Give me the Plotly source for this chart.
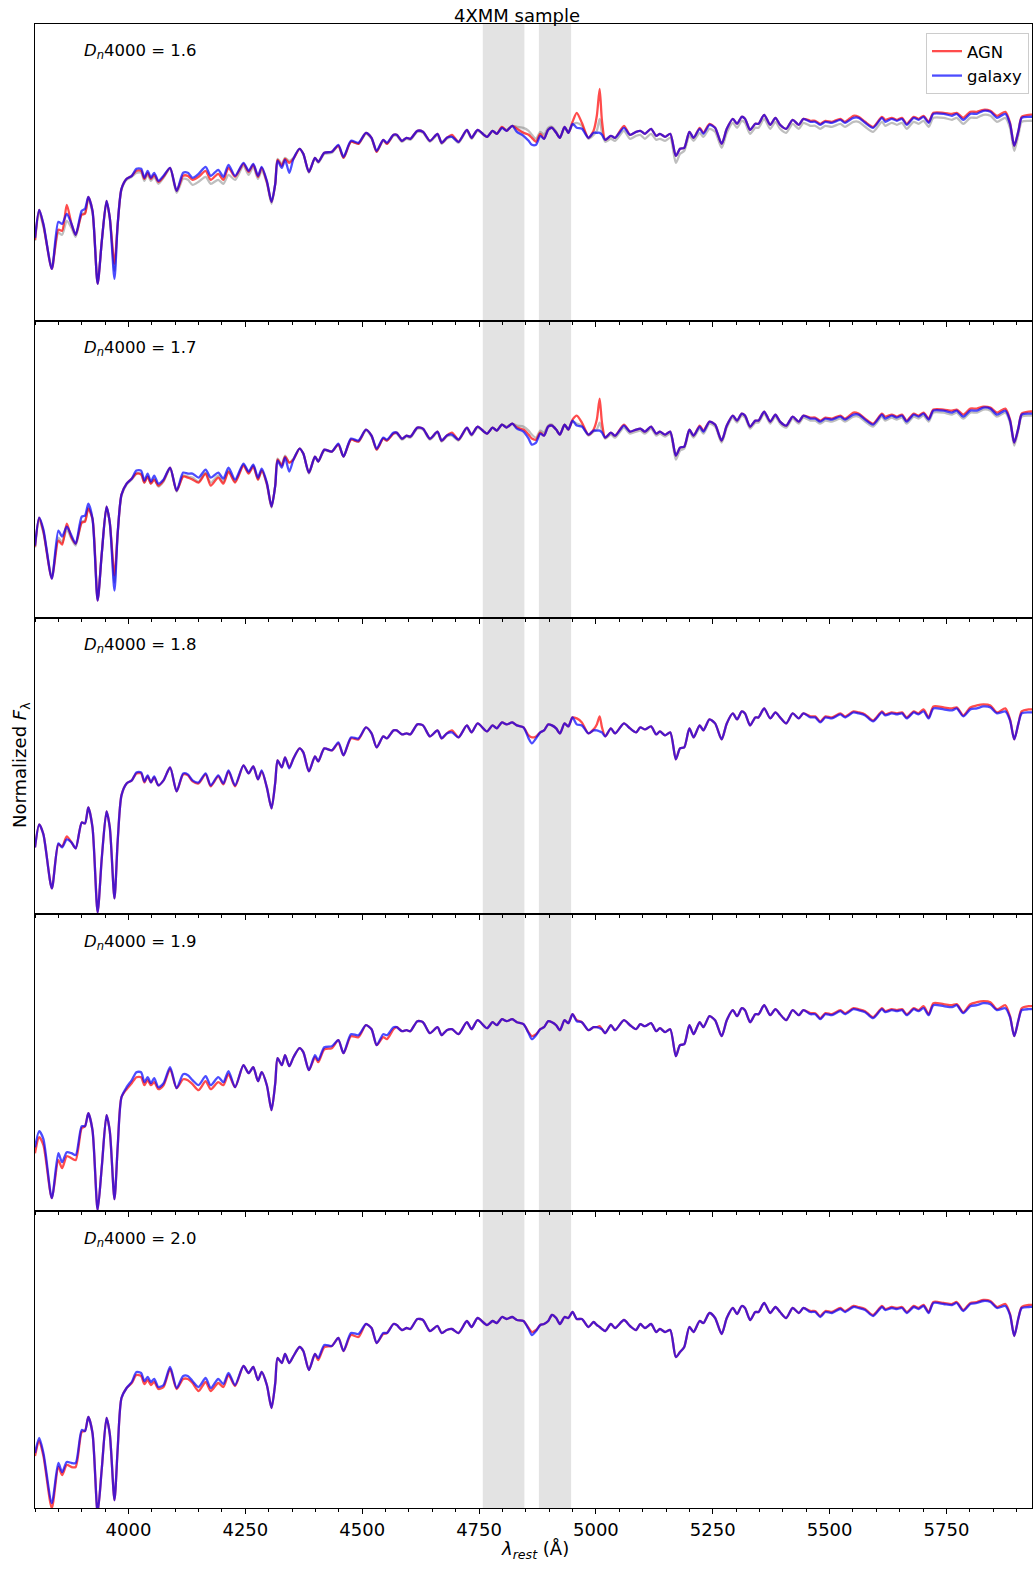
import plotly.graph_objects as go
from plotly.subplots import make_subplots

# Rest-frame wavelength grid (Angstrom), split into blue / middle / red stretches
WAVE_A = [3800, 3809, 3818, 3836, 3850, 3858, 3868, 3878, 3887, 3900, 3907, 3914, 3923, 3934, 3943, 3953, 3960, 3970, 3977, 3985,
          3996, 4007, 4017, 4027, 4034, 4041, 4048, 4055, 4064, 4075, 4089, 4103, 4117, 4127, 4137, 4150, 4165, 4176, 4192, 4203,
          4214, 4228, 4246, 4257, 4267, 4277, 4285, 4296, 4306, 4314, 4319, 4328, 4335, 4344, 4353, 4366, 4374, 4386, 4399, 4406,
          4419, 4435, 4449, 4460, 4476, 4492, 4508, 4520, 4531, 4545, 4553, 4567]
WAVE_B = [4574, 4585, 4595, 4603, 4618, 4630, 4645, 4661, 4670, 4681, 4692, 4706, 4724, 4734, 4747, 4767, 4779, 4788, 4799, 4809,
          4821, 4831, 4845, 4856, 4863, 4872, 4881, 4889, 4898, 4906, 4915, 4923, 4933, 4941, 4950, 4959, 4970, 4984, 4995, 5002,
          5008, 5013, 5020, 5032, 5041, 5060, 5073, 5086, 5095, 5105, 5118, 5129, 5137, 5148, 5159, 5171, 5180, 5189, 5200, 5209,
          5222, 5230, 5243]
WAVE_C = [5255, 5269, 5280, 5293, 5302, 5312, 5319, 5330, 5341, 5348, 5360, 5373, 5384, 5394, 5407, 5421, 5434, 5444, 5459, 5469,
          5480, 5491, 5505, 5523, 5533, 5551, 5562, 5576, 5593, 5612, 5619, 5633, 5644, 5655, 5665, 5680, 5690, 5701, 5712, 5722,
          5744, 5762, 5772, 5786, 5801, 5815, 5829, 5844, 5858, 5876, 5886, 5895, 5904, 5911, 5926, 5938]
WAVE = WAVE_A + WAVE_B + WAVE_C

DN4000_BINS = ["1.6", "1.7", "1.8", "1.9", "2.0"]

# Excluded windows (Angstrom)
MASKS = [(4758, 4847), (4878, 4947)]

X_TICKS = [4000, 4250, 4500, 4750, 5000, 5250, 5500, 5750]

# ---- Dn4000 = 1.6 ----
GAL_16 = [0.83, 1.11, 0.97, 0.52, 0.99, 0.97, 1.07, 0.97, 0.86, 1.10, 1.12, 1.24, 1.10, 0.37, 0.80, 1.20, 1.03, 0.42, 0.97, 1.32,
          1.42, 1.45, 1.52, 1.52, 1.43, 1.50, 1.43, 1.48, 1.40, 1.45, 1.53, 1.30, 1.48, 1.48, 1.43, 1.47, 1.54, 1.45, 1.51, 1.44,
          1.56, 1.45, 1.58, 1.50, 1.57, 1.45, 1.54, 1.40, 1.19, 1.37, 1.60, 1.53, 1.61, 1.48, 1.62, 1.72, 1.67, 1.49, 1.63, 1.59,
          1.68, 1.69, 1.76, 1.64, 1.80, 1.78, 1.88, 1.83, 1.70, 1.81, 1.78, 1.86,
          1.86, 1.80, 1.83, 1.82, 1.90, 1.89, 1.80, 1.87, 1.78, 1.83, 1.84, 1.79, 1.91, 1.83, 1.91, 1.84, 1.90, 1.87, 1.93, 1.90,
          1.95, 1.89, 1.85, 1.80, 1.76, 1.76, 1.85, 1.82, 1.91, 1.93, 1.88, 1.83, 1.94, 1.88, 1.97, 1.93, 1.92, 1.83, 1.88, 1.88,
          1.88, 1.86, 1.81, 1.85, 1.83, 1.93, 1.86, 1.89, 1.90, 1.87, 1.92, 1.85, 1.87, 1.84, 1.87, 1.65, 1.72, 1.73, 1.89, 1.83,
          1.92, 1.87, 1.96,
          1.93, 1.77, 1.92, 2.02, 1.97, 2.04, 2.02, 1.91, 1.97, 1.97, 2.06, 1.96, 2.03, 1.96, 1.92, 2.01, 1.96, 2.02, 1.99, 1.99,
          1.96, 1.99, 1.98, 2.01, 1.98, 2.03, 2.03, 1.98, 1.93, 2.03, 1.99, 2.02, 2.00, 2.02, 1.96, 2.03, 2.01, 2.04, 1.98, 2.07,
          2.07, 2.05, 2.07, 2.01, 2.07, 2.07, 2.10, 2.09, 2.03, 2.07, 1.97, 1.75, 1.90, 2.03, 2.04, 2.04]
AGN_16 = [0.81, 1.11, 0.96, 0.52, 0.91, 0.90, 1.16, 0.97, 0.86, 1.06, 1.07, 1.24, 1.10, 0.37, 0.80, 1.20, 1.03, 0.57, 0.97, 1.32,
          1.42, 1.45, 1.50, 1.50, 1.42, 1.48, 1.42, 1.46, 1.39, 1.44, 1.53, 1.30, 1.45, 1.45, 1.41, 1.44, 1.50, 1.41, 1.47, 1.41,
          1.53, 1.44, 1.57, 1.49, 1.56, 1.44, 1.53, 1.39, 1.19, 1.37, 1.61, 1.55, 1.62, 1.58, 1.62, 1.72, 1.67, 1.49, 1.63, 1.59,
          1.68, 1.69, 1.75, 1.63, 1.79, 1.77, 1.88, 1.83, 1.69, 1.81, 1.77, 1.86,
          1.86, 1.80, 1.83, 1.82, 1.90, 1.89, 1.80, 1.87, 1.78, 1.83, 1.86, 1.79, 1.91, 1.83, 1.91, 1.84, 1.90, 1.87, 1.94, 1.90,
          1.95, 1.92, 1.88, 1.86, 1.83, 1.79, 1.87, 1.82, 1.91, 1.93, 1.88, 1.83, 1.94, 1.88, 1.99, 2.08, 1.98, 1.83, 1.90, 2.05,
          2.32, 2.00, 1.81, 1.85, 1.83, 1.95, 1.86, 1.89, 1.90, 1.87, 1.92, 1.85, 1.87, 1.84, 1.87, 1.65, 1.72, 1.73, 1.89, 1.83,
          1.93, 1.88, 1.97,
          1.93, 1.77, 1.92, 2.02, 1.97, 2.04, 2.02, 1.91, 1.97, 1.97, 2.06, 1.96, 2.03, 1.96, 1.92, 2.01, 1.96, 2.02, 2.00, 2.00,
          1.97, 2.00, 1.99, 2.02, 1.99, 2.05, 2.04, 1.99, 1.94, 2.04, 2.01, 2.03, 2.01, 2.03, 1.97, 2.04, 2.02, 2.05, 1.99, 2.08,
          2.08, 2.07, 2.08, 2.03, 2.09, 2.09, 2.11, 2.10, 2.05, 2.09, 1.98, 1.75, 1.90, 2.04, 2.06, 2.06]
ALL_16 = [0.80, 1.08, 0.94, 0.55, 0.88, 0.86, 1.00, 0.93, 0.84, 1.07, 1.08, 1.22, 1.08, 0.38, 0.80, 1.19, 1.03, 0.50, 0.97, 1.31,
          1.41, 1.44, 1.48, 1.48, 1.40, 1.46, 1.40, 1.44, 1.37, 1.43, 1.52, 1.28, 1.42, 1.41, 1.36, 1.39, 1.44, 1.37, 1.41, 1.37,
          1.46, 1.41, 1.55, 1.46, 1.54, 1.42, 1.50, 1.38, 1.17, 1.37, 1.62, 1.57, 1.63, 1.60, 1.63, 1.72, 1.67, 1.48, 1.63, 1.58,
          1.67, 1.68, 1.75, 1.63, 1.79, 1.77, 1.87, 1.82, 1.69, 1.80, 1.77, 1.85,
          1.85, 1.79, 1.82, 1.81, 1.89, 1.88, 1.79, 1.86, 1.77, 1.82, 1.84, 1.78, 1.90, 1.82, 1.90, 1.84, 1.90, 1.87, 1.93, 1.91,
          1.95, 1.94, 1.93, 1.90, 1.86, 1.82, 1.89, 1.86, 1.93, 1.94, 1.89, 1.83, 1.93, 1.88, 1.96, 1.98, 1.95, 1.82, 1.86, 1.90,
          2.02, 1.88, 1.79, 1.82, 1.80, 1.90, 1.82, 1.85, 1.86, 1.82, 1.87, 1.81, 1.82, 1.80, 1.83, 1.58, 1.67, 1.70, 1.85, 1.80,
          1.88, 1.84, 1.92,
          1.89, 1.73, 1.88, 1.98, 1.93, 2.00, 1.98, 1.87, 1.93, 1.93, 2.02, 1.92, 1.99, 1.92, 1.88, 1.97, 1.92, 1.98, 1.95, 1.95,
          1.92, 1.95, 1.94, 1.97, 1.94, 1.99, 1.99, 1.94, 1.89, 1.99, 1.95, 1.98, 1.96, 1.98, 1.92, 1.99, 1.97, 2.00, 1.94, 2.03,
          2.03, 2.01, 2.03, 1.97, 2.03, 2.03, 2.06, 2.05, 1.99, 2.03, 1.93, 1.70, 1.86, 1.99, 2.00, 2.00]

# ---- Dn4000 = 1.7 ----
GAL_17 = [0.72, 1.00, 0.88, 0.39, 0.87, 0.81, 0.91, 0.82, 0.74, 1.01, 1.02, 1.14, 0.99, 0.17, 0.65, 1.11, 0.95, 0.27, 0.85, 1.23,
          1.34, 1.39, 1.47, 1.47, 1.37, 1.44, 1.36, 1.42, 1.34, 1.38, 1.50, 1.27, 1.45, 1.44, 1.44, 1.40, 1.48, 1.40, 1.45, 1.39,
          1.50, 1.38, 1.54, 1.46, 1.53, 1.40, 1.49, 1.35, 1.11, 1.32, 1.57, 1.50, 1.60, 1.46, 1.58, 1.69, 1.64, 1.45, 1.61, 1.56,
          1.68, 1.66, 1.74, 1.61, 1.79, 1.77, 1.88, 1.82, 1.69, 1.80, 1.78, 1.85,
          1.85, 1.79, 1.82, 1.81, 1.90, 1.89, 1.79, 1.86, 1.77, 1.82, 1.83, 1.78, 1.90, 1.83, 1.91, 1.84, 1.90, 1.87, 1.93, 1.90,
          1.94, 1.89, 1.86, 1.79, 1.73, 1.75, 1.84, 1.82, 1.91, 1.92, 1.88, 1.83, 1.93, 1.88, 1.97, 1.92, 1.91, 1.83, 1.87, 1.87,
          1.87, 1.85, 1.80, 1.85, 1.82, 1.92, 1.86, 1.88, 1.89, 1.86, 1.91, 1.84, 1.86, 1.83, 1.86, 1.62, 1.70, 1.71, 1.88, 1.82,
          1.91, 1.86, 1.96,
          1.93, 1.77, 1.92, 2.02, 1.97, 2.04, 2.02, 1.91, 1.97, 1.97, 2.06, 1.96, 2.03, 1.96, 1.92, 2.01, 1.96, 2.02, 1.99, 1.99,
          1.96, 1.99, 1.98, 2.01, 1.98, 2.03, 2.03, 1.98, 1.93, 2.03, 1.99, 2.02, 2.00, 2.02, 1.96, 2.03, 2.01, 2.04, 1.98, 2.07,
          2.07, 2.05, 2.07, 2.01, 2.07, 2.07, 2.10, 2.09, 2.03, 2.07, 1.97, 1.75, 1.90, 2.03, 2.04, 2.04]
AGN_17 = [0.71, 1.00, 0.86, 0.39, 0.77, 0.73, 0.94, 0.80, 0.74, 0.95, 0.96, 1.09, 0.99, 0.17, 0.65, 1.11, 0.95, 0.42, 0.85, 1.23,
          1.34, 1.39, 1.44, 1.43, 1.35, 1.41, 1.34, 1.38, 1.32, 1.37, 1.50, 1.27, 1.41, 1.40, 1.38, 1.35, 1.44, 1.32, 1.40, 1.34,
          1.46, 1.35, 1.52, 1.44, 1.51, 1.38, 1.47, 1.34, 1.11, 1.32, 1.58, 1.52, 1.61, 1.55, 1.58, 1.69, 1.64, 1.45, 1.61, 1.56,
          1.68, 1.66, 1.73, 1.61, 1.78, 1.76, 1.88, 1.82, 1.68, 1.79, 1.77, 1.84,
          1.85, 1.79, 1.82, 1.81, 1.90, 1.89, 1.79, 1.86, 1.77, 1.82, 1.85, 1.78, 1.90, 1.83, 1.91, 1.84, 1.90, 1.87, 1.93, 1.90,
          1.94, 1.90, 1.88, 1.83, 1.79, 1.78, 1.85, 1.82, 1.91, 1.92, 1.88, 1.83, 1.93, 1.88, 1.98, 2.02, 1.95, 1.83, 1.88, 1.98,
          2.19, 1.95, 1.80, 1.85, 1.82, 1.93, 1.86, 1.88, 1.89, 1.86, 1.91, 1.84, 1.86, 1.83, 1.86, 1.62, 1.70, 1.71, 1.88, 1.82,
          1.92, 1.87, 1.96,
          1.93, 1.77, 1.92, 2.02, 1.97, 2.04, 2.02, 1.91, 1.97, 1.97, 2.06, 1.96, 2.03, 1.96, 1.92, 2.01, 1.96, 2.02, 2.00, 2.00,
          1.97, 2.00, 1.99, 2.02, 1.99, 2.05, 2.04, 1.99, 1.94, 2.04, 2.01, 2.03, 2.01, 2.03, 1.97, 2.04, 2.02, 2.05, 1.99, 2.08,
          2.08, 2.07, 2.08, 2.03, 2.09, 2.09, 2.11, 2.10, 2.05, 2.09, 1.98, 1.75, 1.90, 2.04, 2.06, 2.06]
ALL_17 = [0.70, 0.98, 0.85, 0.42, 0.80, 0.75, 0.88, 0.79, 0.72, 0.96, 0.97, 1.10, 0.98, 0.19, 0.65, 1.10, 0.95, 0.35, 0.85, 1.22,
          1.33, 1.38, 1.44, 1.44, 1.35, 1.41, 1.34, 1.39, 1.31, 1.36, 1.49, 1.26, 1.42, 1.41, 1.40, 1.36, 1.45, 1.35, 1.42, 1.36,
          1.47, 1.36, 1.53, 1.45, 1.52, 1.38, 1.47, 1.33, 1.10, 1.33, 1.59, 1.53, 1.62, 1.55, 1.59, 1.69, 1.64, 1.44, 1.61, 1.56,
          1.67, 1.66, 1.73, 1.61, 1.78, 1.76, 1.87, 1.81, 1.68, 1.79, 1.77, 1.84,
          1.84, 1.78, 1.81, 1.80, 1.89, 1.88, 1.78, 1.85, 1.76, 1.81, 1.82, 1.77, 1.89, 1.82, 1.90, 1.84, 1.90, 1.87, 1.93, 1.91,
          1.94, 1.92, 1.91, 1.87, 1.83, 1.80, 1.87, 1.85, 1.92, 1.93, 1.88, 1.83, 1.93, 1.88, 1.96, 1.94, 1.92, 1.82, 1.86, 1.88,
          1.95, 1.87, 1.79, 1.83, 1.80, 1.90, 1.84, 1.86, 1.87, 1.84, 1.89, 1.82, 1.84, 1.81, 1.84, 1.58, 1.67, 1.69, 1.86, 1.80,
          1.89, 1.84, 1.94,
          1.91, 1.75, 1.90, 2.00, 1.95, 2.02, 2.00, 1.89, 1.95, 1.95, 2.04, 1.94, 2.01, 1.94, 1.90, 1.99, 1.94, 2.00, 1.97, 1.97,
          1.94, 1.97, 1.96, 1.99, 1.96, 2.01, 2.01, 1.96, 1.91, 2.01, 1.97, 2.00, 1.98, 2.00, 1.94, 2.01, 1.99, 2.02, 1.96, 2.05,
          2.05, 2.03, 2.05, 1.99, 2.05, 2.05, 2.08, 2.07, 2.01, 2.05, 1.95, 1.72, 1.88, 2.01, 2.02, 2.02]

# ---- Dn4000 = 1.8 ----
GAL_18 = [0.67, 0.90, 0.80, 0.26, 0.71, 0.67, 0.75, 0.72, 0.66, 0.92, 0.91, 1.07, 0.87, 0.02, 0.57, 1.03, 0.87, 0.16, 0.74, 1.19,
          1.31, 1.34, 1.42, 1.42, 1.33, 1.39, 1.32, 1.38, 1.29, 1.34, 1.47, 1.23, 1.41, 1.40, 1.34, 1.32, 1.41, 1.29, 1.39, 1.31,
          1.44, 1.29, 1.49, 1.41, 1.48, 1.35, 1.44, 1.27, 1.06, 1.32, 1.54, 1.47, 1.57, 1.46, 1.56, 1.66, 1.62, 1.43, 1.58, 1.53,
          1.66, 1.64, 1.72, 1.59, 1.77, 1.76, 1.87, 1.81, 1.67, 1.78, 1.76, 1.84,
          1.84, 1.80, 1.81, 1.80, 1.90, 1.89, 1.78, 1.84, 1.76, 1.81, 1.82, 1.77, 1.89, 1.82, 1.91, 1.83, 1.89, 1.86, 1.92, 1.90,
          1.92, 1.89, 1.87, 1.76, 1.71, 1.76, 1.82, 1.84, 1.90, 1.89, 1.86, 1.81, 1.91, 1.88, 1.97, 1.90, 1.89, 1.81, 1.84, 1.84,
          1.83, 1.82, 1.78, 1.86, 1.81, 1.91, 1.86, 1.82, 1.87, 1.85, 1.88, 1.80, 1.83, 1.79, 1.82, 1.55, 1.66, 1.67, 1.86, 1.77,
          1.89, 1.84, 1.95,
          1.91, 1.75, 1.91, 2.01, 1.95, 2.03, 2.01, 1.89, 1.97, 1.97, 2.06, 1.96, 2.02, 1.97, 1.91, 2.01, 1.96, 2.01, 1.97, 1.97,
          1.92, 1.97, 1.96, 2.00, 1.97, 2.02, 2.01, 1.99, 1.93, 2.02, 1.99, 2.01, 2.00, 2.01, 1.96, 2.02, 2.00, 2.03, 1.96, 2.06,
          2.05, 2.04, 2.06, 1.98, 2.05, 2.06, 2.08, 2.07, 2.01, 2.03, 1.94, 1.75, 1.91, 2.01, 2.02, 2.02]
AGN_18 = [0.67, 0.90, 0.80, 0.26, 0.70, 0.68, 0.78, 0.72, 0.66, 0.92, 0.91, 1.07, 0.87, 0.02, 0.57, 1.03, 0.87, 0.16, 0.74, 1.19,
          1.31, 1.34, 1.41, 1.41, 1.32, 1.38, 1.32, 1.37, 1.29, 1.34, 1.47, 1.23, 1.40, 1.39, 1.33, 1.31, 1.40, 1.28, 1.38, 1.30,
          1.43, 1.28, 1.49, 1.41, 1.48, 1.35, 1.43, 1.27, 1.06, 1.32, 1.54, 1.47, 1.57, 1.47, 1.56, 1.66, 1.62, 1.43, 1.58, 1.53,
          1.66, 1.64, 1.71, 1.59, 1.76, 1.75, 1.87, 1.81, 1.67, 1.78, 1.76, 1.84,
          1.84, 1.80, 1.81, 1.80, 1.90, 1.89, 1.78, 1.84, 1.76, 1.81, 1.84, 1.77, 1.89, 1.82, 1.91, 1.83, 1.89, 1.86, 1.92, 1.90,
          1.92, 1.89, 1.87, 1.79, 1.77, 1.78, 1.82, 1.84, 1.90, 1.89, 1.86, 1.81, 1.91, 1.88, 1.97, 1.96, 1.92, 1.81, 1.85, 1.90,
          1.98, 1.87, 1.78, 1.86, 1.81, 1.91, 1.86, 1.82, 1.87, 1.85, 1.88, 1.80, 1.83, 1.79, 1.82, 1.55, 1.66, 1.67, 1.86, 1.77,
          1.89, 1.84, 1.95,
          1.91, 1.75, 1.91, 2.01, 1.95, 2.03, 2.01, 1.89, 1.97, 1.97, 2.06, 1.96, 2.02, 1.97, 1.91, 2.01, 1.96, 2.01, 1.98, 1.98,
          1.93, 1.98, 1.97, 2.01, 1.98, 2.03, 2.02, 2.00, 1.94, 2.03, 2.00, 2.02, 2.01, 2.02, 1.97, 2.03, 2.01, 2.05, 1.97, 2.08,
          2.07, 2.06, 2.07, 1.99, 2.07, 2.09, 2.10, 2.09, 2.02, 2.06, 1.95, 1.75, 1.91, 2.03, 2.05, 2.05]

# ---- Dn4000 = 1.9 ----
GAL_19 = [0.64, 0.80, 0.72, 0.13, 0.58, 0.49, 0.59, 0.58, 0.56, 0.85, 0.85, 0.98, 0.81, 0.01, 0.45, 0.96, 0.80, 0.12, 0.65, 1.14,
          1.24, 1.31, 1.39, 1.39, 1.29, 1.34, 1.28, 1.33, 1.24, 1.28, 1.44, 1.23, 1.37, 1.36, 1.31, 1.26, 1.35, 1.26, 1.34, 1.29,
          1.40, 1.24, 1.46, 1.38, 1.44, 1.30, 1.39, 1.26, 1.01, 1.28, 1.53, 1.46, 1.56, 1.45, 1.54, 1.63, 1.59, 1.41, 1.56, 1.51,
          1.64, 1.65, 1.71, 1.58, 1.77, 1.76, 1.86, 1.82, 1.66, 1.77, 1.76, 1.84,
          1.84, 1.80, 1.81, 1.80, 1.90, 1.89, 1.78, 1.84, 1.76, 1.81, 1.82, 1.77, 1.89, 1.82, 1.91, 1.83, 1.89, 1.86, 1.92, 1.90,
          1.92, 1.89, 1.87, 1.78, 1.72, 1.76, 1.82, 1.84, 1.90, 1.89, 1.86, 1.81, 1.91, 1.88, 1.97, 1.90, 1.89, 1.81, 1.84, 1.84,
          1.83, 1.82, 1.78, 1.86, 1.81, 1.91, 1.86, 1.82, 1.87, 1.85, 1.88, 1.80, 1.83, 1.79, 1.82, 1.55, 1.66, 1.67, 1.86, 1.77,
          1.89, 1.84, 1.95,
          1.91, 1.75, 1.91, 2.01, 1.95, 2.03, 2.01, 1.89, 1.97, 1.97, 2.06, 1.96, 2.02, 1.97, 1.91, 2.01, 1.96, 2.01, 1.97, 1.97,
          1.92, 1.97, 1.96, 2.00, 1.97, 2.02, 2.01, 1.99, 1.93, 2.02, 1.99, 2.01, 2.00, 2.01, 1.96, 2.02, 2.00, 2.03, 1.96, 2.06,
          2.05, 2.04, 2.06, 1.98, 2.05, 2.06, 2.08, 2.07, 2.01, 2.03, 1.94, 1.75, 1.91, 2.01, 2.02, 2.02]
AGN_19 = [0.58, 0.74, 0.66, 0.13, 0.51, 0.43, 0.55, 0.53, 0.51, 0.83, 0.85, 0.98, 0.81, 0.01, 0.45, 0.96, 0.80, 0.12, 0.65, 1.14,
          1.22, 1.28, 1.34, 1.34, 1.26, 1.31, 1.26, 1.29, 1.22, 1.26, 1.42, 1.23, 1.32, 1.31, 1.27, 1.21, 1.30, 1.22, 1.29, 1.26,
          1.37, 1.24, 1.46, 1.38, 1.44, 1.30, 1.39, 1.26, 1.01, 1.28, 1.53, 1.46, 1.56, 1.45, 1.54, 1.63, 1.59, 1.41, 1.54, 1.49,
          1.62, 1.63, 1.71, 1.58, 1.75, 1.74, 1.86, 1.82, 1.66, 1.74, 1.72, 1.82,
          1.84, 1.80, 1.81, 1.80, 1.90, 1.89, 1.78, 1.84, 1.76, 1.81, 1.82, 1.77, 1.89, 1.82, 1.91, 1.83, 1.89, 1.86, 1.92, 1.90,
          1.92, 1.89, 1.87, 1.79, 1.75, 1.77, 1.82, 1.84, 1.90, 1.89, 1.86, 1.81, 1.91, 1.88, 1.97, 1.91, 1.89, 1.81, 1.84, 1.84,
          1.85, 1.82, 1.78, 1.86, 1.81, 1.91, 1.86, 1.82, 1.87, 1.85, 1.88, 1.80, 1.83, 1.79, 1.82, 1.55, 1.66, 1.67, 1.86, 1.77,
          1.89, 1.84, 1.95,
          1.91, 1.75, 1.91, 2.01, 1.95, 2.03, 2.01, 1.89, 1.97, 1.97, 2.06, 1.96, 2.02, 1.97, 1.91, 2.01, 1.96, 2.01, 1.98, 1.98,
          1.93, 1.98, 1.97, 2.01, 1.98, 2.03, 2.02, 2.00, 1.94, 2.03, 2.00, 2.02, 2.01, 2.02, 1.97, 2.03, 2.01, 2.05, 1.97, 2.08,
          2.07, 2.06, 2.07, 1.99, 2.07, 2.09, 2.10, 2.09, 2.02, 2.06, 1.95, 1.75, 1.91, 2.03, 2.05, 2.05]

# ---- Dn4000 = 2.0 ----
GAL_20 = [0.55, 0.70, 0.55, 0.05, 0.45, 0.36, 0.46, 0.45, 0.45, 0.78, 0.77, 0.91, 0.75, -0.05, 0.40, 0.90, 0.74, 0.08, 0.60, 1.10,
          1.20, 1.26, 1.36, 1.35, 1.27, 1.31, 1.26, 1.29, 1.21, 1.23, 1.41, 1.20, 1.32, 1.32, 1.27, 1.21, 1.30, 1.20, 1.29, 1.24,
          1.35, 1.23, 1.42, 1.35, 1.41, 1.28, 1.36, 1.23, 1.00, 1.25, 1.50, 1.45, 1.54, 1.45, 1.52, 1.61, 1.57, 1.38, 1.54, 1.50,
          1.63, 1.62, 1.70, 1.57, 1.75, 1.74, 1.84, 1.80, 1.65, 1.75, 1.75, 1.84,
          1.83, 1.78, 1.80, 1.79, 1.89, 1.88, 1.77, 1.82, 1.75, 1.78, 1.79, 1.75, 1.87, 1.81, 1.90, 1.83, 1.87, 1.85, 1.91, 1.89,
          1.91, 1.88, 1.87, 1.79, 1.73, 1.77, 1.83, 1.84, 1.87, 1.93, 1.90, 1.84, 1.91, 1.90, 1.96, 1.89, 1.89, 1.81, 1.86, 1.83,
          1.81, 1.79, 1.77, 1.84, 1.80, 1.88, 1.82, 1.78, 1.84, 1.80, 1.84, 1.76, 1.79, 1.76, 1.78, 1.51, 1.56, 1.61, 1.81, 1.76,
          1.87, 1.85, 1.95,
          1.90, 1.74, 1.90, 2.00, 1.94, 2.02, 2.00, 1.88, 1.96, 1.96, 2.05, 1.95, 2.01, 1.96, 1.90, 2.00, 1.95, 2.00, 1.96, 1.96,
          1.91, 1.96, 1.95, 1.99, 1.96, 2.01, 2.00, 1.98, 1.92, 2.01, 1.98, 2.00, 1.99, 2.00, 1.95, 2.01, 1.99, 2.02, 1.95, 2.05,
          2.04, 2.03, 2.05, 1.97, 2.04, 2.05, 2.07, 2.06, 2.00, 2.02, 1.93, 1.72, 1.90, 2.00, 2.01, 2.01]
AGN_20 = [0.52, 0.67, 0.52, 0.00, 0.41, 0.33, 0.43, 0.41, 0.41, 0.76, 0.77, 0.91, 0.75, -0.05, 0.40, 0.90, 0.74, 0.08, 0.60, 1.10,
          1.20, 1.25, 1.33, 1.32, 1.24, 1.28, 1.23, 1.26, 1.19, 1.21, 1.39, 1.19, 1.29, 1.29, 1.25, 1.17, 1.26, 1.17, 1.25, 1.21,
          1.33, 1.22, 1.42, 1.35, 1.41, 1.28, 1.36, 1.23, 1.00, 1.25, 1.50, 1.45, 1.54, 1.45, 1.52, 1.61, 1.57, 1.38, 1.54, 1.48,
          1.61, 1.62, 1.70, 1.57, 1.73, 1.71, 1.84, 1.80, 1.65, 1.74, 1.75, 1.84,
          1.83, 1.78, 1.80, 1.79, 1.89, 1.88, 1.77, 1.82, 1.75, 1.78, 1.79, 1.75, 1.87, 1.81, 1.90, 1.83, 1.87, 1.85, 1.91, 1.89,
          1.91, 1.88, 1.87, 1.80, 1.76, 1.78, 1.83, 1.84, 1.87, 1.93, 1.90, 1.84, 1.91, 1.90, 1.96, 1.89, 1.89, 1.81, 1.86, 1.83,
          1.81, 1.79, 1.77, 1.84, 1.80, 1.88, 1.82, 1.78, 1.84, 1.80, 1.84, 1.76, 1.79, 1.76, 1.78, 1.51, 1.56, 1.61, 1.81, 1.76,
          1.87, 1.85, 1.95,
          1.90, 1.74, 1.90, 2.00, 1.94, 2.02, 2.00, 1.88, 1.96, 1.96, 2.05, 1.95, 2.01, 1.96, 1.90, 2.00, 1.95, 2.00, 1.97, 1.97,
          1.92, 1.97, 1.96, 2.00, 1.97, 2.02, 2.01, 1.99, 1.93, 2.02, 1.99, 2.01, 2.00, 2.01, 1.96, 2.02, 2.00, 2.03, 1.96, 2.06,
          2.05, 2.04, 2.06, 1.98, 2.05, 2.06, 2.08, 2.07, 2.01, 2.04, 1.94, 1.72, 1.90, 2.01, 2.03, 2.03]

GALAXY = [GAL_16, GAL_17, GAL_18, GAL_19, GAL_20]
AGN = [AGN_16, AGN_17, AGN_18, AGN_19, AGN_20]
ALL = {0: ALL_16, 1: ALL_17}

for series in GALAXY + AGN + list(ALL.values()):
    assert len(series) == len(WAVE), (len(series), len(WAVE))

RED = "rgba(255,0,0,0.7)"
BLUE = "rgba(0,0,255,0.7)"
GREY = "rgba(110,110,110,0.45)"
FONT = "DejaVu Sans"
LW = 2.3

n_rows = len(DN4000_BINS)
fig = make_subplots(rows=n_rows, cols=1, shared_xaxes=True, vertical_spacing=0)

for i in range(n_rows):
    row = i + 1
    if i in ALL:
        fig.add_trace(go.Scatter(x=WAVE, y=ALL[i], mode="lines", showlegend=False, hoverinfo="skip",
                                 line=dict(color=GREY, width=LW, shape="spline", smoothing=0.7)),
                      row=row, col=1)
    fig.add_trace(go.Scatter(x=WAVE, y=AGN[i], mode="lines", name="AGN", legendgroup="agn",
                             showlegend=(i == 0),
                             line=dict(color=RED, width=LW, shape="spline", smoothing=0.7)),
                  row=row, col=1)
    fig.add_trace(go.Scatter(x=WAVE, y=GALAXY[i], mode="lines", name="galaxy", legendgroup="gal",
                             showlegend=(i == 0),
                             line=dict(color=BLUE, width=LW, shape="spline", smoothing=0.7)),
                  row=row, col=1)
    ax = "" if i == 0 else str(row)
    fig.add_annotation(xref=f"x{ax} domain", yref=f"y{ax} domain", x=0.047, y=0.906,
                       xanchor="left", yanchor="middle", showarrow=False,
                       text=f"<i>D</i><sub><i>n</i></sub>4000 = {DN4000_BINS[i]}",
                       font=dict(family=FONT, size=16.5, color="black"))

for x0, x1 in MASKS:
    fig.add_shape(type="rect", xref="x", yref="paper", x0=x0, x1=x1, y0=0, y1=1,
                  fillcolor="#e3e3e3", line=dict(width=0), layer="below")

fig.update_xaxes(range=[3800, 5933], showline=True, linecolor="black", linewidth=1, mirror=True,
                 ticks="outside", ticklen=5, tickwidth=1, tickcolor="black",
                 tickvals=X_TICKS, ticktext=[str(t) for t in X_TICKS],
                 minor=dict(tick0=3800, dtick=50, ticks="outside", ticklen=3, tickcolor="black"),
                 showgrid=False, zeroline=False, tickfont=dict(family=FONT, size=18, color="black"))
fig.update_yaxes(range=[0, 2.968], showticklabels=False, ticks="", showline=True, linecolor="black",
                 linewidth=1, mirror=True, showgrid=False, zeroline=False)

fig.add_annotation(xref="paper", yref="paper", x=0.4834, y=1.006, xanchor="center", yanchor="middle",
                   showarrow=False, text="4XMM sample", font=dict(family=FONT, size=18, color="black"))
fig.add_annotation(xref="paper", yref="paper", x=0.5015, y=-0.0283, xanchor="center", yanchor="middle",
                   showarrow=False, text="<i>λ</i><sub><i>rest</i></sub> (Å)",
                   font=dict(family=FONT, size=18, color="black"))
fig.add_annotation(xref="paper", yref="paper", x=-0.014, y=0.5007, xanchor="center", yanchor="middle",
                   showarrow=False, textangle=-90, text="Normalized <i>F</i><sub>λ</sub>",
                   font=dict(family=FONT, size=18, color="black"))

fig.update_layout(
    width=1034, height=1571,
    margin=dict(l=35, r=2, t=24, b=63),
    plot_bgcolor="white", paper_bgcolor="white",
    font=dict(family=FONT, size=18, color="black"),
    legend=dict(x=0.997, y=0.994, xanchor="right", yanchor="top",
                bgcolor="rgba(255,255,255,0.8)", bordercolor="#cccccc", borderwidth=1,
                font=dict(family=FONT, size=16.5, color="black"), tracegroupgap=0),
)

fig.write_html("out.html")
